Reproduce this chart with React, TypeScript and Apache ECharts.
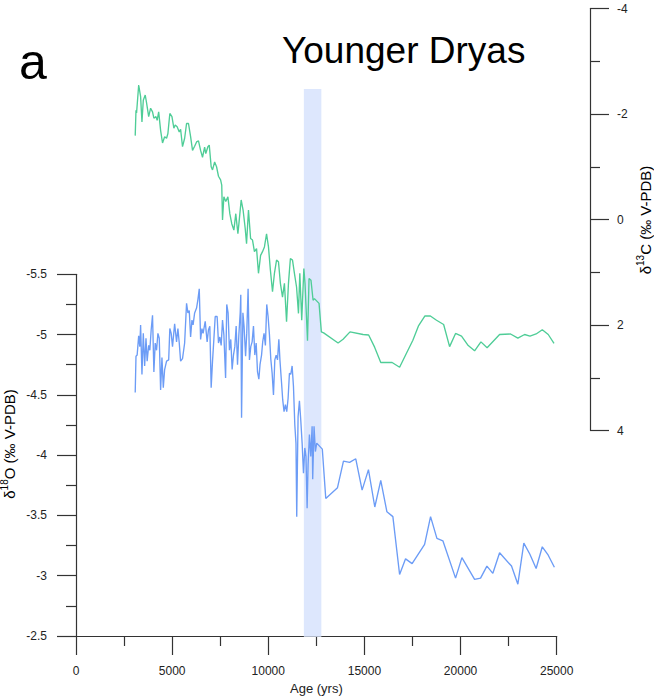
import React, { useEffect, useRef } from 'react';
import * as echarts from 'echarts';

// δ18O record (age in yrs BP, ‰ V-PDB)
const ages18O = [
  3080, 3120, 3180, 3260, 3320, 3360, 3430, 3500, 3570, 3640,
  3700, 3780, 3840, 3910, 3980, 4050, 4120, 4190, 4260, 4330,
  4400, 4470, 4540, 4610, 4710, 4820, 4880, 4950, 5020, 5130,
  5230, 5300, 5370, 5440, 5540, 5650, 5750, 5820, 5890, 5960,
  6030, 6090, 6170, 6270, 6340, 6410, 6480, 6550, 6610, 6720,
  6820, 6890, 6960, 7030, 7100, 7170, 7240, 7340, 7410, 7480,
  7550, 7620, 7690, 7780, 7840, 7910, 7980, 8050, 8120, 8190,
  8260, 8330, 8400, 8470, 8540, 8570, 8610, 8680, 8740, 8820,
  8880, 8950, 9020, 9090, 9160, 9230, 9300, 9370, 9440, 9510,
  9570, 9650, 9710, 9780, 9850, 9920, 9990, 10060, 10130, 10200,
  10270, 10340, 10410, 10480, 10550, 10610, 10690, 10750, 10820, 10890,
  10960, 11030, 11100, 11170, 11240, 11310, 11380, 11440, 11480, 11550,
  11620, 11690, 11760, 11830, 11900, 11960, 12020, 12070, 12140, 12210,
  12280, 12310, 12380, 12450, 12520, 12810, 12990, 13600, 13910, 14230,
  14550, 14880, 15210, 15540, 15850, 16170, 16480, 16830, 17140, 17480,
  18130, 18440, 18770, 19080, 19740, 20070, 20730, 21040, 21370, 21680,
  22030, 22650, 22980, 23290, 23600, 23930, 24250, 24560, 24880,
];
const d18O = [
  -4.52, -4.82, -4.83, -4.99, -4.90, -5.08, -4.67, -5.01, -4.74, -4.97,
  -4.78, -4.91, -4.87, -5.04, -5.16, -4.69, -4.93, -4.87, -5.01, -4.97,
  -4.54, -4.81, -4.56, -4.71, -4.78, -4.79, -5.05, -5.01, -4.90, -5.09,
  -4.94, -5.05, -4.93, -4.78, -4.80, -4.93, -5.26, -5.18, -5.20, -4.98,
  -5.12, -5.08, -5.18, -5.22, -5.29, -5.38, -4.96, -5.05, -5.01, -5.11,
  -4.94, -5.04, -5.07, -4.56, -4.78, -4.96, -5.15, -5.15, -4.93, -4.98,
  -4.91, -5.12, -5.00, -4.64, -5.25, -5.18, -4.87, -4.96, -4.71, -4.83,
  -4.90, -5.07, -4.75, -5.00, -5.18, -5.33, -4.31, -5.18, -5.07, -4.82,
  -5.01, -5.38, -4.79, -4.90, -4.94, -5.07, -4.83, -4.93, -4.69, -4.63,
  -4.75, -4.83, -4.94, -5.01, -4.91, -5.25, -5.15, -5.00, -4.80, -4.68,
  -4.50, -4.79, -4.83, -4.79, -4.96, -4.78, -4.60, -4.46, -4.36, -4.42,
  -4.36, -4.47, -4.68, -4.67, -4.74, -4.57, -4.25, -4.10, -3.49, -4.32,
  -4.45, -4.29, -4.10, -3.85, -4.06, -3.99, -3.56, -3.92, -4.17, -3.99,
  -4.24, -3.80, -4.24, -4.03, -4.10, -4.05, -3.64, -3.73, -3.95, -3.94,
  -3.97, -3.71, -3.88, -3.57, -3.79, -3.53, -3.49, -3.01, -3.14, -3.10,
  -3.26, -3.49, -3.31, -3.29, -2.98, -3.15, -2.97, -2.98, -3.08, -3.02,
  -3.19, -3.08, -2.93, -3.27, -3.18, -3.06, -3.24, -3.17, -3.07,
];

// δ13C record (age in yrs BP, ‰ V-PDB)
const ages13C = [
  3080, 3120, 3150, 3260, 3360, 3430, 3500, 3600, 3670, 3780,
  3880, 3980, 4050, 4160, 4220, 4300, 4400, 4500, 4610, 4710,
  4780, 4880, 4990, 5090, 5160, 5260, 5370, 5440, 5540, 5650,
  5750, 5850, 5960, 6060, 6170, 6270, 6370, 6480, 6580, 6690,
  6750, 6860, 6930, 7030, 7100, 7210, 7310, 7410, 7520, 7580,
  7620, 7690, 7790, 7900, 8000, 8100, 8210, 8310, 8420, 8480,
  8590, 8690, 8800, 8870, 8970, 9080, 9180, 9280, 9390, 9490,
  9600, 9700, 9800, 9910, 10010, 10110, 10220, 10320, 10430, 10530,
  10630, 10740, 10840, 10950, 11050, 11150, 11260, 11360, 11470, 11570,
  11640, 11740, 11850, 11910, 12040, 12120, 12220, 12330, 12400, 12640,
  12760, 12880, 13630, 13890, 14250, 14930, 15220, 15530, 15850, 16440,
  16830, 17180, 17520, 17820, 18140, 18430, 18750, 19120, 19430, 19740,
  20050, 20400, 20730, 21060, 21380, 22030, 22600, 22980, 23330, 23610,
  23930, 24250, 24560, 24860,
];
const d13C = [
  -1.59, -2.07, -2.02, -2.55, -2.33, -1.85, -2.26, -2.36, -2.21, -1.95,
  -2.11, -2.04, -1.92, -1.95, -1.88, -2.04, -1.69, -1.45, -1.57, -1.54,
  -1.63, -2.01, -1.95, -1.73, -1.79, -1.76, -1.66, -1.71, -1.38, -1.54,
  -1.82, -1.82, -1.57, -1.31, -1.39, -1.47, -1.49, -1.31, -1.18, -1.37,
  -1.25, -1.38, -1.41, -1.00, -0.94, -1.09, -1.00, -0.82, -0.75, -0.65,
  0.01, -0.43, -0.34, -0.43, -0.11, 0.08, 0.20, -0.11, 0.27, 0.05,
  -0.37, -0.18, 0.17, 0.46, -0.18, 0.36, 0.39, 0.61, 0.55, 1.02,
  0.68, 0.61, 0.52, 0.27, 0.52, 0.96, 1.37, 1.02, 0.77, 0.80,
  1.21, 1.47, 1.21, 1.94, 1.21, 0.74, 0.77, 1.02, 1.28, 1.78,
  1.02, 1.91, 0.93, 1.21, 2.30, 1.12, 1.15, 1.53, 1.50, 1.59,
  2.13, 2.15, 2.34, 2.27, 2.13, 2.18, 2.19, 2.42, 2.71, 2.71,
  2.80, 2.54, 2.29, 2.01, 1.83, 1.83, 1.91, 1.99, 2.41, 2.16,
  2.21, 2.39, 2.49, 2.32, 2.43, 2.18, 2.17, 2.25, 2.18, 2.21,
  2.17, 2.09, 2.18, 2.35,
];

// Younger Dryas interval (yrs)
const youngerDryas = [11850, 12760];

// axis ranges / tick steps
const xRange = [0, 25000, 5000];
const o18Range = [-5.5, -2.5, 0.5];
const c13Range = [-4, 4, 2];

const FONT = '"Liberation Sans", Arial, Helvetica, sans-serif';
const AXIS_COLOR = '#333';
const LABEL_COLOR = '#222';
const BLUE = '#6c9cf6';
const GREEN = '#4fcd97';
const BAND = '#dde7fd';

export default function App() {
  const ref = useRef<HTMLDivElement>(null);

  useEffect(() => {
    if (!ref.current) return;
    const chart = echarts.init(ref.current, null, { renderer: 'svg', width: 654, height: 700 });

    const L = 76;
    const W = 480.7;
    const lineStyle = { color: AXIS_COLOR, width: 1.2 };
    const axisLine = { show: true, onZero: false, lineStyle };
    const axisTick = { show: true, length: 19, lineStyle };
    const minorTick = { show: true, splitNumber: 2, length: 10, lineStyle };
    const label = { color: LABEL_COLOR, fontSize: 12, fontFamily: FONT };

    const nameRich = {
      n: { fontSize: 15, fontFamily: FONT, color: LABEL_COLOR },
      s: { fontSize: 10, fontFamily: FONT, color: LABEL_COLOR, padding: [0, 0, 9, 0] },
    };

    chart.setOption({
      animation: false,
      grid: [
        { left: L, top: 274.3, width: W, height: 362.4 },
        { left: L, top: 8.5, width: W, height: 422 },
        { left: L, top: 89, width: W, height: 547.7 },
      ],
      xAxis: [
        {
          gridIndex: 0,
          type: 'value',
          min: xRange[0],
          max: xRange[1],
          interval: xRange[2],
          axisLine,
          axisTick,
          minorTick,
          splitLine: { show: false },
          minorSplitLine: { show: false },
          axisLabel: { ...label, margin: 29, formatter: (v: number) => String(v) },
          name: 'Age (yrs)',
          nameLocation: 'middle',
          nameGap: 46,
          nameTextStyle: { color: LABEL_COLOR, fontSize: 13, fontFamily: FONT },
        },
        { gridIndex: 1, type: 'value', min: xRange[0], max: xRange[1], show: false },
        { gridIndex: 2, type: 'value', min: xRange[0], max: xRange[1], show: false },
      ],
      yAxis: [
        {
          gridIndex: 0,
          type: 'value',
          position: 'left',
          inverse: true,
          min: o18Range[0],
          max: o18Range[1],
          interval: o18Range[2],
          axisLine,
          axisTick,
          minorTick,
          splitLine: { show: false },
          minorSplitLine: { show: false },
          axisLabel: { ...label, margin: 29 },
        },
        {
          gridIndex: 1,
          type: 'value',
          position: 'right',
          offset: 33.3,
          inverse: true,
          min: c13Range[0],
          max: c13Range[1],
          interval: c13Range[2],
          axisLine,
          axisTick,
          minorTick,
          splitLine: { show: false },
          minorSplitLine: { show: false },
          axisLabel: { ...label, margin: 27 },
        },
        { gridIndex: 2, type: 'value', min: 0, max: 1, show: false },
      ],
      series: [
        {
          type: 'line',
          xAxisIndex: 2,
          yAxisIndex: 2,
          z: 1,
          symbol: 'none',
          data: [[youngerDryas[0], 0.5]],
          lineStyle: { width: 0 },
          silent: true,
          markArea: {
            silent: true,
            itemStyle: { color: BAND },
            data: [[{ xAxis: youngerDryas[0] }, { xAxis: youngerDryas[1] }]],
          },
        },
        {
          type: 'line',
          name: 'd18O',
          xAxisIndex: 0,
          yAxisIndex: 0,
          z: 3,
          symbol: 'none',
          showSymbol: false,
          lineStyle: { color: BLUE, width: 1.35 },
          data: ages18O.map((a, i) => [a, d18O[i]]),
        },
        {
          type: 'line',
          name: 'd13C',
          xAxisIndex: 1,
          yAxisIndex: 1,
          z: 3,
          symbol: 'none',
          showSymbol: false,
          lineStyle: { color: GREEN, width: 1.35 },
          data: ages13C.map((a, i) => [a, d13C[i]]),
        },
      ],
      graphic: [
        {
          type: 'text',
          x: 19,
          y: 62,
          style: {
            text: 'a',
            fontSize: 50,
            fontFamily: FONT,
            fill: '#000',
            align: 'left',
            verticalAlign: 'middle',
          },
        },
        {
          type: 'text',
          x: 282,
          y: 50,
          style: {
            text: 'Younger Dryas',
            fontSize: 37,
            fontFamily: FONT,
            fill: '#000',
            align: 'left',
            verticalAlign: 'middle',
          },
        },
        {
          type: 'text',
          x: 9,
          y: 444,
          rotation: Math.PI / 2,
          style: {
            text: '{n|δ}{s|18}{n|O (‰ V-PDB)}',
            rich: nameRich,
            align: 'center',
            verticalAlign: 'middle',
          },
        },
        {
          type: 'text',
          x: 645,
          y: 220,
          rotation: Math.PI / 2,
          style: {
            text: '{n|δ}{s|13}{n|C (‰ V-PDB)}',
            rich: nameRich,
            align: 'center',
            verticalAlign: 'middle',
          },
        },
      ],
    });

    return () => {
      chart.dispose();
    };
  }, []);

  return (
    <div
      ref={ref}
      style={{ position: 'fixed', left: 0, top: 0, width: 654, height: 700, background: '#fff' }}
    />
  );
}
